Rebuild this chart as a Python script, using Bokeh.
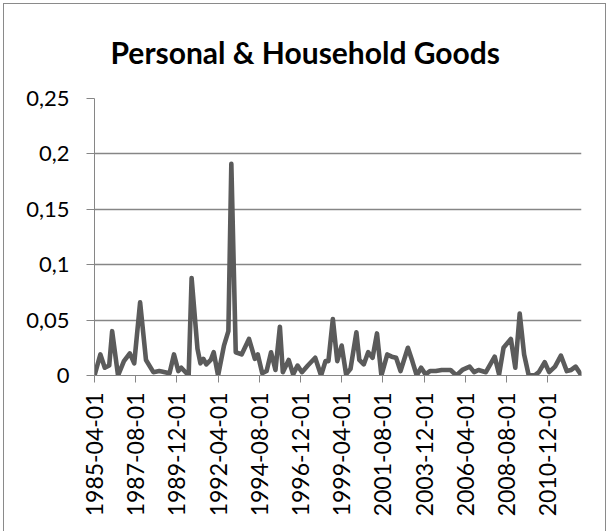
import math

from bokeh.embed import file_html
from bokeh.models import CustomJSTickFormatter, FixedTicker, Range1d, Title
from bokeh.plotting import figure
from bokeh.resources import INLINE

# Observation dates and the measured values of the series
dates = [
    "1985-04-01", "1985-08-01", "1985-11-01", "1986-02-01", "1986-04-01", "1986-08-01",
    "1986-12-01", "1987-04-01", "1987-07-01", "1987-11-01", "1988-03-01", "1988-08-01",
    "1988-12-01", "1989-07-01", "1989-10-01", "1990-01-01", "1990-03-01", "1990-08-01",
    "1990-10-01", "1991-02-01", "1991-04-01", "1991-06-01", "1991-08-01", "1991-11-01",
    "1992-01-01", "1992-04-01", "1992-08-01", "1992-11-01", "1993-01-01", "1993-04-01",
    "1993-08-01", "1994-01-01", "1994-05-01", "1994-07-01", "1994-10-01", "1995-01-01",
    "1995-04-01", "1995-07-01", "1995-10-01", "1995-12-01", "1996-04-01", "1996-07-01",
    "1996-10-01", "1997-01-01", "1997-05-01", "1997-10-01", "1998-02-01", "1998-05-01",
    "1998-07-01", "1998-10-01", "1999-01-01", "1999-04-01", "1999-07-01", "1999-10-01",
    "2000-02-01", "2000-04-01", "2000-07-01", "2000-10-01", "2001-01-01", "2001-04-01",
    "2001-07-01", "2001-11-01", "2002-02-01", "2002-05-01", "2002-08-01", "2003-01-01",
    "2003-04-01", "2003-07-01", "2003-10-01", "2004-01-01", "2004-04-01", "2004-08-01",
    "2004-12-01", "2005-06-01", "2005-10-01", "2006-02-01", "2006-07-01", "2006-10-01",
    "2007-01-01", "2007-06-01", "2007-12-01", "2008-03-01", "2008-06-01", "2008-11-01",
    "2009-02-01", "2009-05-01", "2009-08-01", "2009-11-01", "2010-03-01", "2010-06-01",
    "2010-10-01", "2011-01-01", "2011-05-01", "2011-09-01", "2012-01-01", "2012-04-01",
    "2012-07-01", "2012-11-01",
]
values = [
    0.000, 0.019, 0.007, 0.009, 0.040, 0.000,
    0.013, 0.020, 0.011, 0.066, 0.014, 0.003,
    0.004, 0.002, 0.019, 0.004, 0.007, 0.000,
    0.088, 0.024, 0.011, 0.015, 0.010, 0.014,
    0.021, 0.000, 0.027, 0.040, 0.191, 0.021,
    0.019, 0.033, 0.015, 0.019, 0.002, 0.004,
    0.021, 0.005, 0.044, 0.003, 0.014, 0.001,
    0.009, 0.003, 0.009, 0.016, 0.000, 0.013,
    0.013, 0.051, 0.013, 0.027, 0.001, 0.006,
    0.039, 0.014, 0.010, 0.021, 0.016, 0.038,
    0.000, 0.019, 0.017, 0.016, 0.004, 0.025,
    0.013, 0.000, 0.007, 0.001, 0.004, 0.004,
    0.005, 0.005, 0.000, 0.005, 0.008, 0.003,
    0.005, 0.003, 0.017, 0.001, 0.025, 0.033,
    0.007, 0.056, 0.019, 0.001, 0.000, 0.003,
    0.012, 0.003, 0.008, 0.018, 0.004, 0.005,
    0.008, 0.000,
]
tick_labels = [
    "1985-04-01", "1987-08-01", "1989-12-01", "1992-04-01", "1994-08-01", "1996-12-01",
    "1999-04-01", "2001-08-01", "2003-12-01", "2006-04-01", "2008-08-01", "2010-12-01",
]
y_ticks = [0, 0.05, 0.1, 0.15, 0.2, 0.25]
title_text = "Personal & Household Goods"

START_YEAR, START_MONTH = 1985, 4


def month_index(d):
    """Months elapsed since the first observation."""
    y, m = int(d[:4]), int(d[5:7])
    return (y - START_YEAR) * 12 + (m - START_MONTH)


xs = [month_index(d) for d in dates]
tick_pos = [month_index(t) for t in tick_labels]

FONT = "Lato"
GRID = "#868686"

p = figure(
    width=603, height=528,
    output_backend="svg", toolbar_location=None, title=None,
    x_range=Range1d(0, xs[-1]), y_range=Range1d(0, 0.25),
    min_border_left=90, min_border_right=26, min_border_top=94, min_border_bottom=157,
    background_fill_color="white", border_fill_color="white",
)
p.outline_line_color = None
# chart-area border (open at the bottom, where the chart continues)
p.styles = {
    "margin-left": "2.5px", "margin-top": "2.5px",
    "border-left": "1.5px solid #8a8a8a",
    "border-top": "1.5px solid #8a8a8a",
    "border-right": "1.5px solid #8a8a8a",
}

p.line(xs, values, line_color="#5b5b5b", line_width=4.6, line_join="round", line_cap="round")

# value axis
p.yaxis.ticker = FixedTicker(ticks=y_ticks)
p.yaxis.formatter = CustomJSTickFormatter(
    code="var s = (Math.round(tick * 100) / 100).toString(); return s.replace('.', ',');"
)
p.yaxis.major_tick_out = 8
p.yaxis.major_tick_in = 0
p.yaxis.minor_tick_line_color = None
p.yaxis.major_label_standoff = 17
p.yaxis.axis_line_color = GRID
p.yaxis.major_tick_line_color = GRID
p.yaxis.major_label_text_font = FONT
p.yaxis.major_label_text_font_size = "22px"
p.yaxis.major_label_text_color = "black"

# date axis
p.xaxis.ticker = FixedTicker(ticks=tick_pos)
p.xaxis.major_label_overrides = {pos: lab for pos, lab in zip(tick_pos, tick_labels)}
p.xaxis.major_label_orientation = math.pi / 2
p.xaxis.major_tick_out = 7
p.xaxis.major_tick_in = 0
p.xaxis.minor_tick_line_color = None
p.xaxis.major_label_standoff = 10
p.xaxis.axis_line_color = GRID
p.xaxis.major_tick_line_color = GRID
p.xaxis.major_label_text_font = FONT
p.xaxis.major_label_text_font_size = "23px"
p.xaxis.major_label_text_color = "black"

p.xgrid.grid_line_color = None
p.ygrid.grid_line_color = GRID
p.ygrid.grid_line_width = 1.3

p.add_layout(Title(
    text=title_text, align="left", offset=16, standoff=54, vertical_align="top",
    text_font=FONT, text_font_style="bold", text_font_size="30px", text_color="black",
), "above")

open("out.html", "w").write(file_html(p, INLINE))
